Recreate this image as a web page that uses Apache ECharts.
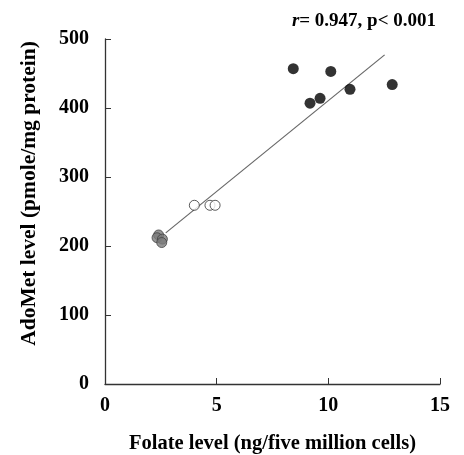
<!DOCTYPE html>
<html>
<head>
<meta charset="utf-8">
<script src="https://cdn.jsdelivr.net/npm/echarts@6/dist/echarts.min.js"></script>
<style>
  html, body { margin: 0; padding: 0; background: #fff; }
  #chart { width: 464px; height: 455px; }
</style>
</head>
<body>
<div id="chart"></div>
<script>
// ── Data ──────────────────────────────────────────────────────────────────
const xTicks = [0, 5, 10, 15]
const yTicks = [0, 100, 200, 300, 400, 500]

// high-folate group (filled black)
const highGroup = [
  [8.43, 457], [10.11, 453], [9.18, 407], [9.63, 414], [10.97, 427], [12.86, 434]
]
// middle group (open circles)
const midGroup = [
  [4.0, 259], [4.70, 259], [4.93, 259]
]
// low group (grey)
const lowGroup = [
  [2.40, 216], [2.33, 212], [2.57, 210], [2.54, 205]
]
// regression line endpoints
const fitLine = [
  [2.72, 219], [12.52, 477]
]

const FONT = '"Liberation Serif", "DejaVu Serif", serif'

const chart = echarts.init(document.getElementById('chart'))

chart.setOption({
  animation: false,
  backgroundColor: '#fff',
  title: {
    text: '{i|r}= 0.947, p< 0.001',
    right: 23,
    top: 7,
    textStyle: {
      fontFamily: FONT,
      fontWeight: 'bold',
      fontSize: 19,
      color: '#000',
      rich: {
        i: { fontFamily: FONT, fontStyle: 'italic', fontWeight: 'bold', fontSize: 19, color: '#000' }
      }
    }
  },
  grid: { left: 105, right: 24, top: 39, bottom: 71, containLabel: false, outerBoundsMode: 'none' },
  xAxis: {
    type: 'value',
    min: xTicks[0],
    max: xTicks[xTicks.length - 1],
    interval: 5,
    name: 'Folate level (ng/five million cells)',
    nameLocation: 'middle',
    nameGap: 49,
    nameTextStyle: { fontFamily: FONT, fontWeight: 'bold', fontSize: 20.5, color: '#000' },
    axisLine: { lineStyle: { color: '#333', width: 1.3 } },
    axisTick: { inside: true, length: 6, lineStyle: { color: '#333' } },
    axisLabel: { fontFamily: FONT, fontWeight: 'bold', fontSize: 20, color: '#000', margin: 12 },
    splitLine: { show: false }
  },
  yAxis: {
    type: 'value',
    min: yTicks[0],
    max: yTicks[yTicks.length - 1],
    interval: 100,
    name: 'AdoMet level (pmole/mg protein)',
    nameLocation: 'middle',
    nameGap: 65,
    nameTextStyle: { fontFamily: FONT, fontWeight: 'bold', fontSize: 21.5, color: '#000', padding: [0, 0, 0, 36] },
    axisLine: { show: true, lineStyle: { color: '#333', width: 1.3 } },
    axisTick: { show: true, inside: true, length: 6, lineStyle: { color: '#333' } },
    axisLabel: { fontFamily: FONT, fontWeight: 'bold', fontSize: 20, color: '#000', margin: 16 },
    splitLine: { show: false }
  },
  series: [
    {
      type: 'line',
      data: fitLine,
      symbol: 'none',
      lineStyle: { color: '#666', width: 1.2 },
      z: 1
    },
    {
      type: 'scatter',
      data: highGroup,
      symbolSize: 11,
      itemStyle: { color: '#000' },
      z: 3
    },
    {
      type: 'scatter',
      data: midGroup,
      symbolSize: 10,
      itemStyle: { color: '#fff', borderColor: '#333', borderWidth: 1 },
      z: 3
    },
    {
      type: 'scatter',
      data: lowGroup,
      symbolSize: 10,
      itemStyle: { color: '#7a7a7a', borderColor: '#444', borderWidth: 1 },
      z: 3
    }
  ]
})
</script>
</body>
</html>
